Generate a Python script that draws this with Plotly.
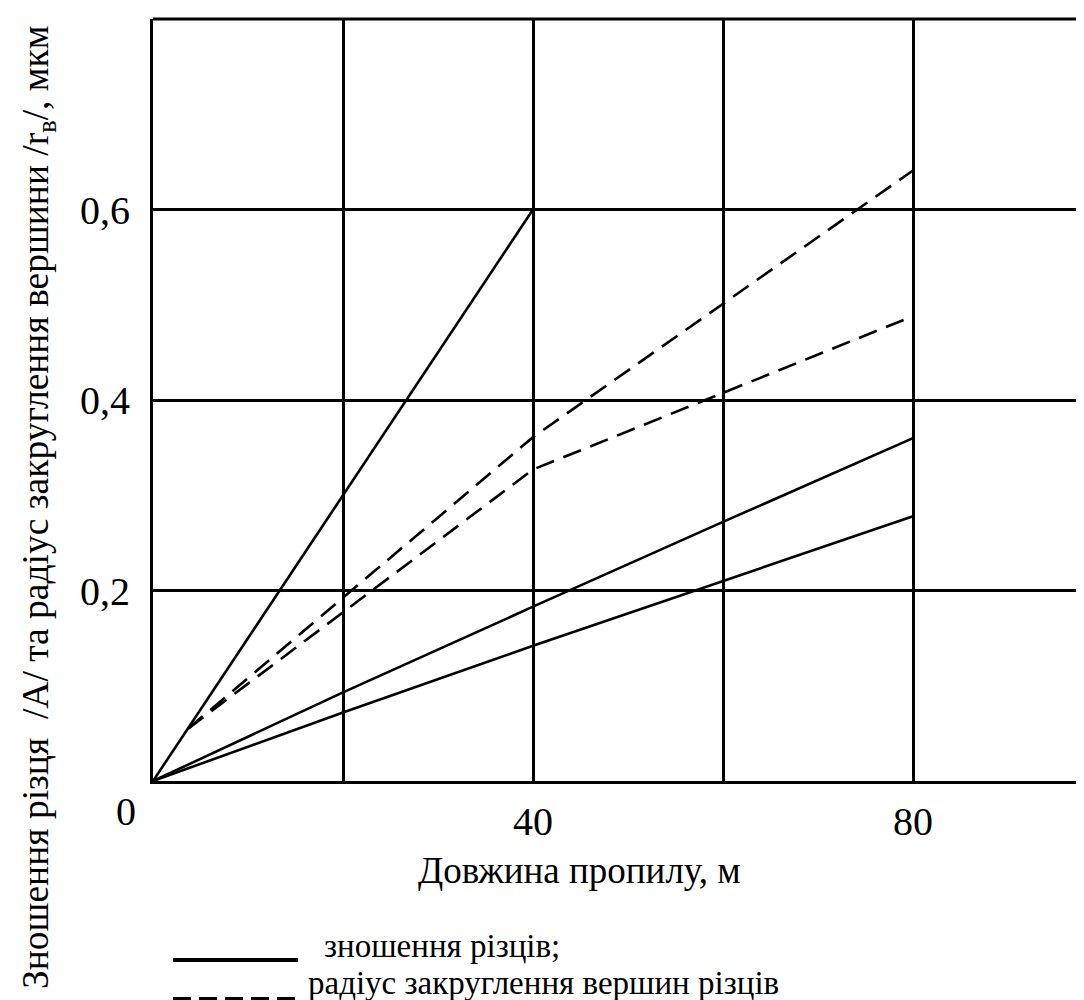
import plotly.graph_objects as go

# Data
x_solid_steep = [0, 40]
y_solid_steep = [0, 0.6]

x_solid_mid = [0, 20, 40, 60, 80]
y_solid_mid = [0, 0.093, 0.183, 0.272, 0.36]

x_solid_low = [0, 20, 40, 60, 80]
y_solid_low = [0, 0.072, 0.142, 0.21, 0.278]

x_dash_upper = [3.7, 40, 80]
y_dash_upper = [0.055, 0.361, 0.641]

x_dash_lower = [3.7, 40, 80]
y_dash_lower = [0.055, 0.327, 0.488]

x_grid = [20, 40, 60, 80]
x_ticktext = ["", "40", "", "80"]
y_grid = [0.2, 0.4, 0.6]
y_ticktext = ["0,2", "0,4", "0,6"]

FONT = "Liberation Serif, Times New Roman, serif"
W, H = 1084, 1000
L, R, T, B = 145, 0, 11, 227
PH = H - T - B

def py(p):
    return (H - B - p) / PH

def px(p):
    return (p - L) / (W - L - R)

fig = go.Figure()
line_w = 2.6
for xs, ys, dash in [
    (x_solid_steep, y_solid_steep, "solid"),
    (x_solid_mid, y_solid_mid, "solid"),
    (x_solid_low, y_solid_low, "solid"),
    (x_dash_upper, y_dash_upper, "19px,10px"),
    (x_dash_lower, y_dash_lower, "19px,10px"),
]:
    fig.add_trace(go.Scatter(x=xs, y=ys, mode="lines",
                             line=dict(color="black", width=line_w, dash=dash),
                             showlegend=False, hoverinfo="skip"))

fig.update_xaxes(range=[0, (W - L - R) / 9.5], tickvals=x_grid, ticktext=x_ticktext,
                 showgrid=True, gridcolor="black", gridwidth=2.5,
                 showline=True, linecolor="black", linewidth=3,
                 zeroline=False, ticks="", ticklabelstandoff=3,
                 tickfont=dict(family=FONT, size=40, color="black"))
fig.update_yaxes(range=[0, 0.8], tickvals=y_grid, ticktext=y_ticktext,
                 showgrid=True, gridcolor="black", gridwidth=2.5,
                 showline=True, linecolor="black", linewidth=3,
                 zeroline=False, ticks="", ticklabelstandoff=12,
                 tickfont=dict(family=FONT, size=40, color="black"))

shapes = [
    dict(type="line", xref="paper", yref="paper", x0=0, x1=1, y0=1, y1=1,
         line=dict(color="black", width=3)),
    # legend samples
    dict(type="line", xref="paper", yref="paper", x0=px(165), x1=px(290),
         y0=py(952), y1=py(952), line=dict(color="black", width=4)),
    dict(type="line", xref="paper", yref="paper", x0=px(165), x1=px(292),
         y0=py(991), y1=py(991), line=dict(color="black", width=4, dash="18px,8px")),
]

annotations = [
    dict(text="0", xref="paper", yref="paper", x=px(118), y=py(803),
         showarrow=False, font=dict(family=FONT, size=40, color="black"),
         xanchor="center", yanchor="middle"),
    dict(text="Довжина пропилу, м", xref="paper", yref="paper", x=px(408), y=py(862),
         showarrow=False, font=dict(family=FONT, size=37, color="black"),
         xanchor="left", yanchor="middle"),
    dict(text="зношення різців;", xref="paper", yref="paper", x=px(314), y=py(938),
         showarrow=False, font=dict(family=FONT, size=33, color="black"),
         xanchor="left", yanchor="middle"),
    dict(text="радіус закруглення вершин різців", xref="paper", yref="paper", x=px(298), y=py(975),
         showarrow=False, font=dict(family=FONT, size=33, color="black"),
         xanchor="left", yanchor="middle"),
    dict(text="Зношення різця  /A/ та радіус закруглення вершини /r<sub>в</sub>/, мкм",
         xref="paper", yref="paper", x=px(30), y=py(499), textangle=-90,
         showarrow=False, font=dict(family=FONT, size=37.5, color="black"),
         xanchor="center", yanchor="middle"),
]

fig.update_layout(width=W, height=H, margin=dict(l=L, r=R, t=T, b=B),
                  plot_bgcolor="white", paper_bgcolor="white",
                  shapes=shapes, annotations=annotations, showlegend=False)

fig.write_html("out.html")
